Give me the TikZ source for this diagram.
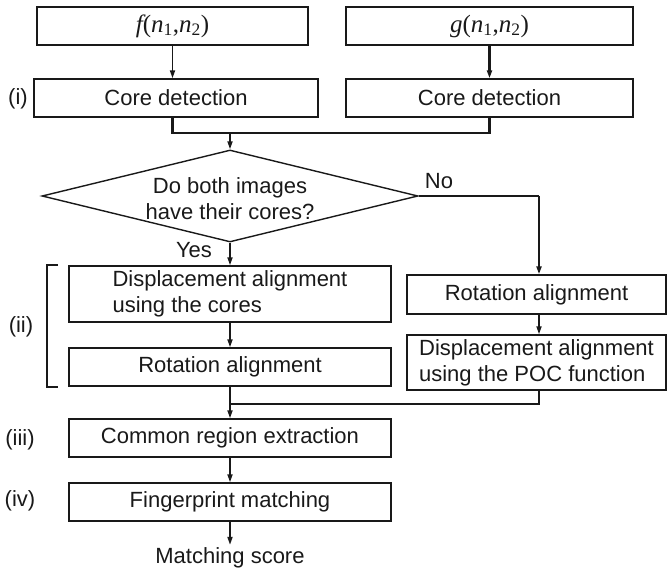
\documentclass[tikz,border=0pt]{standalone}
\usepackage{fontspec}
\setmainfont{Liberation Sans}
\newfontfamily\tms{Liberation Serif}
\usetikzlibrary{arrows.meta,shapes.geometric}
\begin{document}
\begin{tikzpicture}[x=1pt,y=-1pt,
  txt/.style={font=\fontsize{22}{26}\selectfont, text=black!90},
  box/.style={txt, draw=black!90, line width=1.4pt, minimum height=38pt, inner sep=0pt},
  conn/.style={line width=1.7pt, draw=black!90},
  thick conn/.style={line width=2.3pt, draw=black!90},
  arr/.style={conn, -{Triangle[length=8pt,width=5pt]}},
  tarr/.style={thick conn, -{Triangle[length=8pt,width=5pt]}},
  mathtxt/.style={font=\fontsize{25}{28}\selectfont\tms, text=black!90}]
\useasboundingbox (0,0) rectangle (668,569);

% top inputs
\node[box, mathtxt, minimum width=271pt] (fbox) at (172.5,26)
  {\itshape f\upshape(\itshape n\textsubscript{\upshape 1}\upshape,\itshape n\textsubscript{\upshape 2}\upshape)};
\node[box, mathtxt, minimum width=287pt] (gbox) at (489.5,26)
  {\itshape g\upshape(\itshape n\textsubscript{\upshape 1}\upshape,\itshape n\textsubscript{\upshape 2}\upshape)};

% core detection
\node[box, minimum width=284pt] (coreL) at (176,98) {Core detection};
\node[box, minimum width=287pt] (coreR) at (489.5,98) {Core detection};

% decision
\node[draw=black!90, line width=1.4pt, diamond, aspect=4.087, minimum width=376pt, minimum height=92pt, inner sep=0pt] (dia) at (230,196) {};
\node[txt, align=center] (dq) at (230,199) {Do both images\\have their cores?};
\node[txt] (yes) at (194,250) {Yes};
\node[txt] (no) at (439,181) {No};

% left branch
\node[box, minimum width=322pt, minimum height=56pt, align=left] (dispL) at (230,294) {Displacement alignment\\using the cores};
\node[box, minimum width=322pt] (rotL) at (230,367) {Rotation alignment};

% right branch
\node[box, minimum width=259pt, minimum height=39pt] (rotR) at (536.5,294.5) {Rotation alignment};
\node[box, minimum width=259pt, minimum height=55pt, align=left] (poc) at (536.5,362.5) {Displacement alignment\\using the POC function};

% bottom
\node[box, minimum width=322pt] (common) at (230,438) {Common region extraction};
\node[box, minimum width=322pt] (finger) at (230,502) {Fingerprint matching};
\node[txt, anchor=base, inner sep=2pt] (score) at (230,563) {Matching score};

% step labels
\node[txt] (li) at (18,99) {(i)};
\node[txt] (lii) at (21,327) {(ii)};
\node[txt] (liii) at (20,440) {(iii)};
\node[txt] (liv) at (20,501) {(iv)};

% bracket
\coordinate (bt) at (58,265);
\coordinate (bb) at (58,387);
\draw[line width=2pt, draw=black!90] (bt) -- ++(-11,0) -- ++(0,122) -- (bb);

% connectors
\draw[arr] (fbox.south) -- (fbox.south |- coreL.north);
\draw[tarr] (gbox.south) -- (coreR.north);
\coordinate (mL) at (172.5,133);
\coordinate (mR) at (489.5,133);
\coordinate (mC) at (230,133);
\draw[thick conn] (coreL.south -| mL) -- (mL) -- (mR) -- (coreR.south);
\draw[arr] (mC) -- (dia.north);
\draw[arr] (dia.south) -- (dispL.north);
\coordinate (nC) at (539,196);
\draw[thick conn] (dia.east) -- (nC);
\draw[tarr] (nC) -- (nC |- rotR.north);
\draw[arr] (dispL.south) -- (rotL.north);
\draw[arr] (nC |- rotR.south) -- (nC |- poc.north);
\coordinate (jn) at (230,404);
\draw[thick conn] (nC |- poc.south) |- (jn);
\draw[arr] (rotL.south) -- (common.north);
\draw[arr] (common.south) -- (finger.north);
\draw[arr] (finger.south) -- (score.north);
\end{tikzpicture}
\end{document}
